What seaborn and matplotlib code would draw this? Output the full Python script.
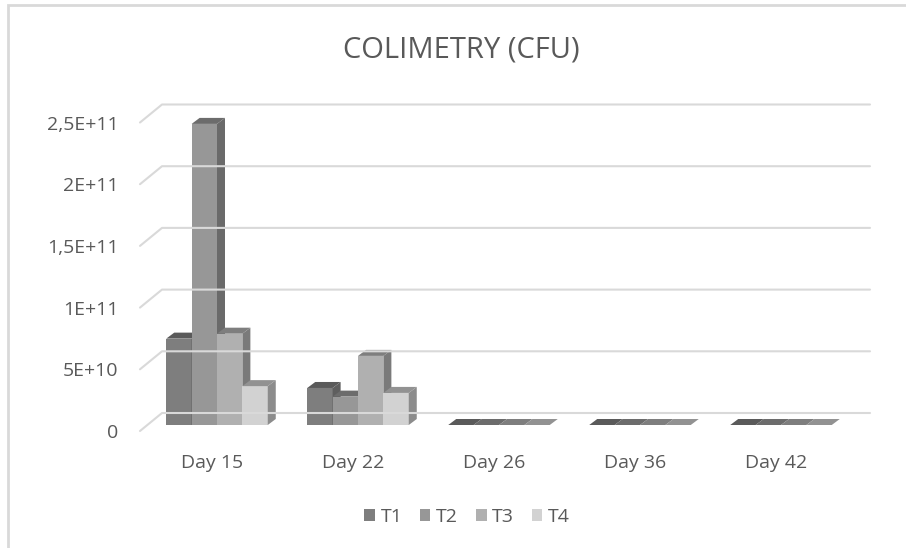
import matplotlib
matplotlib.use("Agg")
import matplotlib.pyplot as plt
import matplotlib.transforms as mtransforms
from matplotlib.patches import Polygon, Rectangle, Patch
from matplotlib.lines import Line2D
import numpy as np
import pandas as pd
import seaborn as sns

categories = ["Day 15", "Day 22", "Day 26", "Day 36", "Day 42"]
series_names = ["T1", "T2", "T3", "T4"]
T1 = [7.0e10, 3.0e10, 0, 0, 0]
T2 = [2.44e11, 2.3e10, 0, 0, 0]
T3 = [7.4e10, 5.6e10, 0, 0, 0]
T4 = [3.15e10, 2.6e10, 0, 0, 0]
ytick_values = [0, 5e10, 1e11, 1.5e11, 2e11, 2.5e11]
ytick_labels = ["0", "5E+10", "1E+11", "1,5E+11", "2E+11", "2,5E+11"]
title = "COLIMETRY (CFU)"

colors = ["#7e7e7e", "#979797", "#b0b0b0", "#d2d2d2"]
top_colors = ["#5a5a5a", "#6c6c6c", "#7e7e7e", "#929292"]
side_colors = ["#5e5e5e", "#6a6a6a", "#7a7a7a", "#8c8c8c"]
text_color = "#595959"
grid_color = "#d9d9d9"

df = pd.DataFrame({"Day": categories * 4,
                   "Series": sum([[s] * len(categories) for s in series_names], []),
                   "CFU": T1 + T2 + T3 + T4})

sns.set_theme(style="white")
plt.rcParams["font.family"] = ["Open Sans", "DejaVu Sans"]

W, H = 906, 548
fig = plt.figure(figsize=(W / 100, H / 100), dpi=100)
ax_left, ax_width = 146.5, 705.0
ax_bottom_px, ax_top_px = 425.0, 116.5
ax = fig.add_axes([ax_left / W, 1 - ax_bottom_px / H, ax_width / W, (ax_bottom_px - ax_top_px) / H])

sns.barplot(data=df, x="Day", y="CFU", hue="Series", order=categories,
            hue_order=series_names, palette=colors, width=0.72, ax=ax,
            saturation=1, legend=False, edgecolor="none", linewidth=0)

ax.set_xlim(-0.5, len(categories) - 0.5)
ax.set_ylim(0, 2.5e11)
for s in ax.spines.values():
    s.set_visible(False)
ax.set_xlabel("")
ax.set_ylabel("")
ax.grid(False)
ax.set_facecolor("none")
fig.patch.set_facecolor("white")

# y tick labels on the front plane
ax.set_yticks(ytick_values)
ax.set_yticklabels(ytick_labels)
ax.tick_params(axis="y", length=0, pad=20, labelsize=14, labelcolor=text_color)
for lab in ax.get_yticklabels():
    lab.set_transform(lab.get_transform() + mtransforms.ScaledTranslation(0, -0.06, fig.dpi_scale_trans))
ax.tick_params(axis="x", length=0, pad=21, labelsize=14, labelcolor=text_color)
for lab in ax.get_xticklabels():
    lab.set_transform(lab.get_transform() + mtransforms.ScaledTranslation(-0.05, 0, fig.dpi_scale_trans))

fig.canvas.draw()
idt = mtransforms.IdentityTransform()

# gridlines with side wall (back plane)
for v in ytick_values:
    yd = ax.transData.transform((0, v))[1]
    yb = yd + 12
    yf = yd - 6
    fig.add_artist(Line2D([140, 162, 870], [yf, yb, yb], transform=idt,
                          color=grid_color, lw=1.5, zorder=0.5))

# 3D faces for bars
dx, dy = 8, 6
n = len(categories)
for i, p in enumerate(ax.patches):
    h_idx = i // n
    p.set_zorder(2 + h_idx * 0.1)
    x0, y0 = ax.transData.transform((p.get_x(), p.get_y()))
    x1, y1 = ax.transData.transform((p.get_x() + p.get_width(), p.get_y() + p.get_height()))
    top = Polygon([(x0, y1), (x1, y1), (x1 + dx, y1 + dy), (x0 + dx, y1 + dy)],
                  closed=True, transform=idt, facecolor=top_colors[h_idx],
                  edgecolor="none", zorder=2 + h_idx * 0.1 + 0.01)
    side = Polygon([(x1, y0), (x1 + dx, y0 + dy), (x1 + dx, y1 + dy), (x1, y1)],
                   closed=True, transform=idt, facecolor=side_colors[h_idx],
                   edgecolor="none", zorder=2 + h_idx * 0.1 + 0.02)
    ax.add_artist(top)
    ax.add_artist(side)
    top.set_clip_on(False)
    side.set_clip_on(False)

# chart border
fig.add_artist(Rectangle((8, -10), 1000, H - 5 + 10, transform=idt, fill=False,
                         edgecolor=grid_color, lw=2, zorder=0.1))

fig.text(461 / W, 1 - 50 / H, title, ha="center", va="center", fontsize=21,
         color=text_color)

handles = [Patch(facecolor=c, edgecolor="none", label=s) for c, s in zip(colors, series_names)]
fig.legend(handles=handles, loc="center", bbox_to_anchor=(467 / W, 1 - 517 / H),
           ncol=4, frameon=False, handlelength=0.55, handleheight=0.55,
           handletextpad=0.3, columnspacing=0.9, fontsize=14, labelcolor=text_color)

fig.savefig("out.png", dpi=100, facecolor="white")
